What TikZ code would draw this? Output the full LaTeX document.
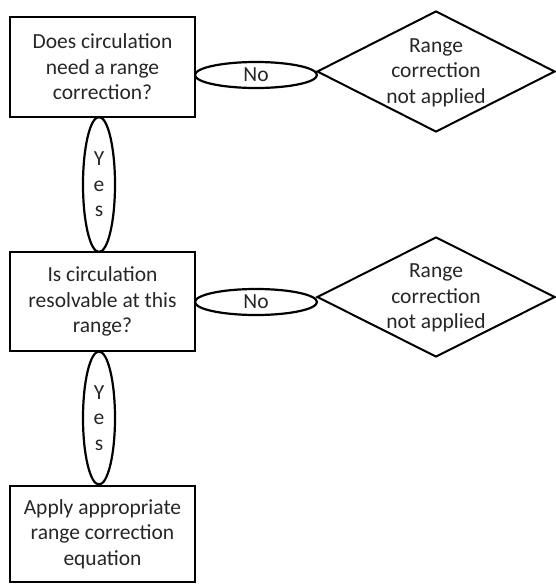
\documentclass[tikz,border=0pt]{standalone}
\usepackage{fontspec}
\setmainfont{Carlito}
\usetikzlibrary{shapes.geometric}

\begin{document}
\begin{tikzpicture}[x=1pt,y=-1pt,
  every node/.style={font=\fontsize{21.5}{25.5}\selectfont,text=black!85},
  qbox/.style={draw,line width=2.4pt,minimum width=185pt,align=center,inner sep=2pt},
  answer/.style={draw,ellipse,line width=2.2pt,inner sep=0pt,align=center},
  outcome/.style={draw,diamond,line width=2pt,minimum width=238pt,minimum height=121pt,inner sep=0pt}]
\useasboundingbox (0,0) rectangle (556,584);
% first question
\node[qbox,minimum height=100pt] (q1) at (102.5,67) {Does circulation\\need a range\\correction?};
\node[answer,minimum width=122pt,minimum height=26pt] (no1) at (256,75) {No};
\node[outcome,label={[align=center,yshift=-1pt]center:Range\\correction\\not applied}] (r1) at (436,71.5) {};
\node[answer,minimum width=32pt,minimum height=135pt] (yes1) at (99,184.5) {Y\\e\\s};
% second question
\node[qbox,minimum height=99pt] (q2) at (102.5,301.5) {Is circulation\\resolvable at this\\range?};
\node[answer,minimum width=122pt,minimum height=26pt] (no2) at (256,302) {No};
\node[outcome,minimum height=120pt,label={[align=center,yshift=-1pt]center:Range\\correction\\not applied}] (r2) at (436,297) {};
\node[answer,minimum width=32pt,minimum height=133pt] (yes2) at (99,418) {Y\\e\\s};
% result
\node[qbox,minimum height=96pt] (q3) at (102.5,534) {Apply appropriate\\range correction\\equation};
\end{tikzpicture}
\end{document}
